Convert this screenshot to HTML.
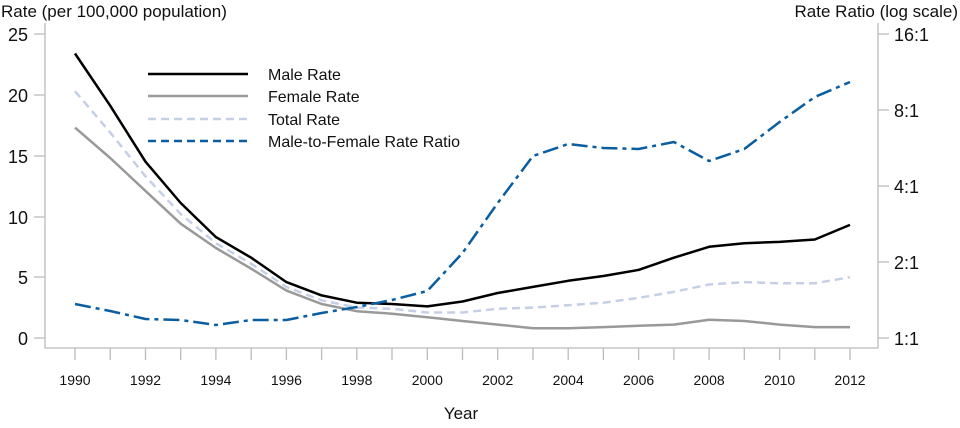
<!DOCTYPE html>
<html><head><meta charset="utf-8"><style>body{margin:0;background:#fff}svg{display:block}text{font-family:"Liberation Sans",sans-serif;fill:#111}</style></head>
<body>
<svg width="960" height="428" viewBox="0 0 960 428">
<g stroke="#bbb" stroke-width="1.3" fill="none">
<path d="M45,23V348H878V23"/>
<path d="M34,34H45M34,95H45M34,156H45M34,217H45M34,277H45M34,338H45"/>
<path d="M878,34H889M878,110H889M878,186H889M878,262H889M878,338H889"/>
<path id="xt" d="M75,348v12M110.2,348v12M145.5,348v12M180.7,348v12M215.9,348v12M251.2,348v12M286.4,348v12M321.6,348v12M356.8,348v12M392,348v12M427.3,348v12M462.5,348v12M497.7,348v12M533,348v12M568.2,348v12M603.4,348v12M638.6,348v12M673.9,348v12M709.1,348v12M744.3,348v12M779.6,348v12M814.8,348v12M850,348v12"/>
</g>
<g font-size="18" text-anchor="end">
<text x="28" y="41">25</text><text x="28" y="102">20</text><text x="28" y="163">15</text><text x="28" y="224">10</text><text x="28" y="284">5</text><text x="28" y="345">0</text>
</g>
<g font-size="18">
<text x="894" y="41">16:1</text><text x="894" y="117">8:1</text><text x="894" y="193">4:1</text><text x="894" y="269">2:1</text><text x="894" y="345">1:1</text>
</g>
<g font-size="14" text-anchor="middle">
<text x="75" y="385">1990</text><text x="145.5" y="385">1992</text><text x="215.9" y="385">1994</text><text x="286.4" y="385">1996</text><text x="356.8" y="385">1998</text><text x="427.3" y="385">2000</text><text x="497.7" y="385">2002</text><text x="568.2" y="385">2004</text><text x="638.6" y="385">2006</text><text x="709.1" y="385">2008</text><text x="779.6" y="385">2010</text><text x="850" y="385">2012</text>
</g>
<text x="461" y="419" font-size="17" text-anchor="middle">Year</text>
<text x="1" y="17" font-size="17">Rate (per 100,000 population)</text>
<text x="958" y="17" font-size="17" text-anchor="end">Rate Ratio (log scale)</text>
<g fill="none" stroke-width="2.5" stroke-linejoin="round">
<polyline stroke="#c5cfe6" stroke-dasharray="8,5" points="75,91.2 110.2,132.5 145.5,176.3 180.7,214 215.9,243.2 251.2,263.8 286.4,286.9 321.6,300.3 356.8,307.6 392,308.8 427.3,312.5 462.5,312.5 497.7,308.8 533,307.6 568.2,305.2 603.4,302.7 638.6,297.9 673.9,291.8 709.1,284.5 744.3,282.1 779.6,283.3 814.8,283.3 850,277.2"/>
<polyline stroke="#999" points="75,127.6 110.2,158 145.5,190.9 180.7,223.7 215.9,248 251.2,268.7 286.4,290.6 321.6,304 356.8,311.2 392,313.7 427.3,317.3 462.5,321 497.7,324.6 533,328.3 568.2,328.3 603.4,327.1 638.6,325.8 673.9,324.6 709.1,319.8 744.3,321 779.6,324.6 814.8,327.1 850,327.1"/>
<polyline stroke="#000" points="75,53.5 110.2,105.7 145.5,161.7 180.7,203 215.9,237.1 251.2,257.7 286.4,282.1 321.6,295.4 356.8,302.7 392,304 427.3,306.4 462.5,301.5 497.7,293 533,286.9 568.2,280.8 603.4,276 638.6,269.9 673.9,257.7 709.1,246.8 744.3,243.2 779.6,241.9 814.8,239.5 850,224.9"/>
<polyline stroke="#0a5ea0" stroke-dasharray="16,5,4,5" points="75,304 110.2,311 145.5,319 180.7,320 215.9,325 251.2,320 286.4,320 321.6,313 356.8,307 392,300 427.3,291 462.5,253 497.7,203 533,156 568.2,144 603.4,148 638.6,149 673.9,142 709.1,161 744.3,149 779.6,122 814.8,97 850,82"/>
</g>
<g stroke-width="2.5">
<line x1="148" y1="74" x2="248" y2="74" stroke="#000"/>
<line x1="148" y1="96" x2="248" y2="96" stroke="#999"/>
<line x1="148" y1="119" x2="248" y2="119" stroke="#c5cfe6" stroke-dasharray="8,5"/>
<line x1="148" y1="141" x2="248" y2="141" stroke="#0a5ea0" stroke-dasharray="8,5"/>
</g>
<g font-size="16">
<text x="268" y="80">Male Rate</text><text x="268" y="102">Female Rate</text><text x="268" y="125">Total Rate</text><text x="268" y="147">Male-to-Female Rate Ratio</text>
</g>
</svg>
</body></html>
